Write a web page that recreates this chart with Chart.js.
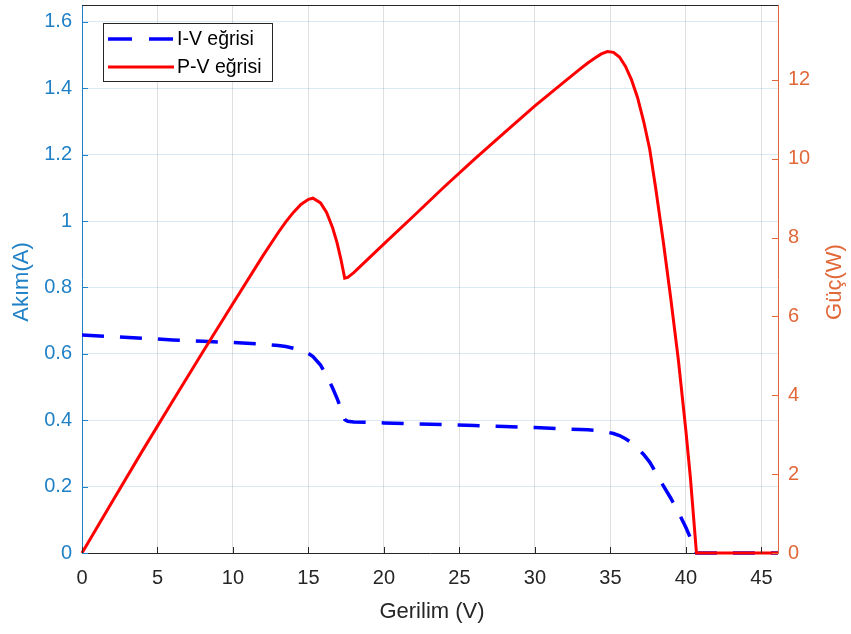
<!DOCTYPE html>
<html>
<head>
<meta charset="utf-8">
<script src="https://cdn.jsdelivr.net/npm/chart.js@4/dist/chart.umd.min.js"></script>
<style>
  body { margin: 0; background: #fff; }
  #wrap { width: 851px; height: 634px; }
</style>
</head>
<body>
<div id="wrap"><canvas id="pv_chart" width="851" height="634"></canvas></div>
<script>
// Gerilim (V)
var voltage = [0, 2, 4, 6, 8, 10, 12, 13, 13.5, 14, 14.5, 15, 15.3, 15.8, 16.2, 16.6, 16.9, 17.15, 17.4, 17.6, 18, 20, 22, 24, 26, 28, 30, 32, 33, 33.5, 34, 34.4, 34.8, 35.2, 35.6, 36, 36.4, 36.8, 37.2, 37.6, 38, 38.5, 39, 39.5, 40, 40.3, 40.7, 42, 44, 46.1];
// Akim (A)
var current = [0.657, 0.652, 0.647, 0.642, 0.638, 0.634, 0.629, 0.625, 0.622, 0.617, 0.611, 0.601, 0.592, 0.566, 0.535, 0.497, 0.465, 0.435, 0.402, 0.397, 0.395, 0.392, 0.389, 0.387, 0.384, 0.381, 0.378, 0.374, 0.372, 0.371, 0.369, 0.367, 0.364, 0.360, 0.354, 0.344, 0.332, 0.316, 0.297, 0.274, 0.243, 0.203, 0.165, 0.123, 0.077, 0.045, 0, 0, 0, 0];
// Guc (W)
var power = [0, 1.30, 2.59, 3.85, 5.10, 6.33, 7.55, 8.13, 8.40, 8.64, 8.84, 8.97, 9.00, 8.88, 8.64, 8.25, 7.86, 7.45, 6.97, 6.99, 7.11, 7.84, 8.56, 9.29, 9.99, 10.67, 11.34, 11.97, 12.28, 12.43, 12.56, 12.66, 12.72, 12.70, 12.58, 12.34, 12.00, 11.55, 10.95, 10.25, 9.25, 7.90, 6.45, 4.90, 3.10, 1.90, 0, 0, 0, 0];

var xTicks = [0, 5, 10, 15, 20, 25, 30, 35, 40, 45];
var leftTicks = [0, 0.2, 0.4, 0.6, 0.8, 1, 1.2, 1.4, 1.6];
var rightTicks = [0, 2, 4, 6, 8, 10, 12];

var BLUE = '#1f80c6';
var ORANGE = '#e2683a';
var DARK = '#262626';
var FONT = '"Liberation Sans", Arial, sans-serif';

function pairs(xs, ys) {
    var out = [];
    for (let i = 0; i < xs.length; i++) {
        out.push({x: xs[i], y: ys[i]});
    }
    return out;
}

function setTicks(list) {
    return function(scale) {
        scale.ticks = list.map(function(v) { return {value: v}; });
    };
}

function fixSize(w, h) {
    return function(s) {
        if (w) s.width = w;
        if (h) s.height = h;
        s.paddingTop = 0; s.paddingBottom = 0;
        s.paddingLeft = 0; s.paddingRight = 0;
    };
}

function plainNum(v) {
    return String(+v.toFixed(2));
}

// axis titles, inward tick marks, top border, legend box
var matlabLook = {
    id: 'matlabLook',
    afterDraw: function(chart) {
        var ctx = chart.ctx;
        var a = chart.chartArea;
        var sx = chart.scales.x, sl = chart.scales.yl, sr = chart.scales.yr;
        ctx.save();

        // top border
        ctx.strokeStyle = DARK;
        ctx.lineWidth = 1;
        ctx.beginPath();
        ctx.moveTo(a.left, a.top + 0.5);
        ctx.lineTo(a.right, a.top + 0.5);
        ctx.stroke();

        // inward tick marks
        ctx.beginPath();
        xTicks.forEach(function(v) {
            var px = Math.round(sx.getPixelForValue(v)) + 0.5;
            ctx.moveTo(px, a.bottom);
            ctx.lineTo(px, a.bottom - 6);
        });
        ctx.stroke();
        ctx.strokeStyle = BLUE;
        ctx.beginPath();
        leftTicks.forEach(function(v) {
            var py = Math.round(sl.getPixelForValue(v)) + 0.5;
            ctx.moveTo(a.left, py);
            ctx.lineTo(a.left + 6, py);
        });
        ctx.stroke();
        ctx.strokeStyle = ORANGE;
        ctx.beginPath();
        rightTicks.forEach(function(v) {
            var py = Math.round(sr.getPixelForValue(v)) + 0.5;
            ctx.moveTo(a.right, py);
            ctx.lineTo(a.right - 6, py);
        });
        ctx.stroke();

        // axis titles
        var midY = (a.top + a.bottom) / 2;
        ctx.font = '22px ' + FONT;
        ctx.textAlign = 'center';
        ctx.textBaseline = 'middle';
        ctx.fillStyle = DARK;
        ctx.fillText('Gerilim (V)', (a.left + a.right) / 2 + 2, 612);
        ctx.save();
        ctx.translate(22, midY + 3);
        ctx.rotate(-Math.PI / 2);
        ctx.fillStyle = BLUE;
        ctx.fillText('Akım(A)', 0, 0);
        ctx.restore();
        ctx.save();
        ctx.translate(835, midY + 3);
        ctx.rotate(-Math.PI / 2);
        ctx.fillStyle = ORANGE;
        ctx.fillText('Güç(W)', 0, 0);
        ctx.restore();

        // legend
        var lx = 103, ly = 23, lw = 169, lh = 58;
        ctx.fillStyle = '#fff';
        ctx.fillRect(lx, ly, lw, lh);
        ctx.strokeStyle = DARK;
        ctx.lineWidth = 1;
        ctx.strokeRect(lx + 0.5, ly + 0.5, lw, lh);
        ctx.lineWidth = 3.5;
        ctx.strokeStyle = '#0000FF';
        ctx.setLineDash([24, 17]);
        ctx.beginPath();
        ctx.moveTo(108, 39);
        ctx.lineTo(174, 39);
        ctx.stroke();
        ctx.setLineDash([]);
        ctx.lineWidth = 3;
        ctx.strokeStyle = '#FF0000';
        ctx.beginPath();
        ctx.moveTo(108, 67);
        ctx.lineTo(174, 67);
        ctx.stroke();
        ctx.font = '19.5px ' + FONT;
        ctx.textAlign = 'left';
        ctx.fillStyle = '#000';
        ctx.fillText('I-V eğrisi', 177, 40);
        ctx.fillText('P-V eğrisi', 177, 68);

        ctx.restore();
    }
};

var ctx1 = document.getElementById('pv_chart').getContext('2d');
var myChart1 = new Chart(ctx1, {
    type: 'line',
    data: {
        datasets: [{
            label: 'I-V eğrisi',
            data: pairs(voltage, current),
            yAxisID: 'yl',
            borderColor: '#0000FF',
            borderWidth: 3.5,
            borderDash: [22, 16],
            pointRadius: 0,
            fill: false,
            clip: false,
            order: 2
        },
        {
            label: 'P-V eğrisi',
            data: pairs(voltage, power),
            yAxisID: 'yr',
            borderColor: '#FF0000',
            borderWidth: 3,
            pointRadius: 0,
            fill: false,
            clip: false,
            order: 1
        }]
    },
    plugins: [matlabLook],
    options: {
        responsive: false,
        animation: false,
        layout: { padding: { top: 5, left: 0, right: 0, bottom: 0 } },
        plugins: {
            legend: { display: false },
            tooltip: { enabled: false }
        },
        scales: {
            x: {
                type: 'linear',
                min: 0,
                max: 46.1,
                afterBuildTicks: setTicks(xTicks),
                afterFit: fixSize(0, 81),
                ticks: { color: DARK, font: { size: 20, family: FONT }, padding: 13, maxRotation: 0, callback: plainNum },
                grid: { color: 'rgba(38,38,38,0.15)', drawTicks: false },
                border: { color: DARK, width: 1 }
            },
            yl: {
                type: 'linear',
                position: 'left',
                min: 0,
                max: 1.651,
                afterBuildTicks: setTicks(leftTicks),
                afterFit: fixSize(82, 0),
                ticks: { color: BLUE, font: { size: 20, family: FONT }, padding: 10, callback: plainNum },
                grid: { color: 'rgba(0,114,189,0.15)', drawTicks: false },
                border: { color: BLUE, width: 1 }
            },
            yr: {
                type: 'linear',
                position: 'right',
                min: 0,
                max: 13.9,
                afterBuildTicks: setTicks(rightTicks),
                afterFit: fixSize(73, 0),
                ticks: { color: ORANGE, font: { size: 20, family: FONT }, padding: 10, callback: plainNum },
                grid: { display: false, drawTicks: false },
                border: { color: ORANGE, width: 1 }
            }
        }
    }
});
</script>
</body>
</html>
